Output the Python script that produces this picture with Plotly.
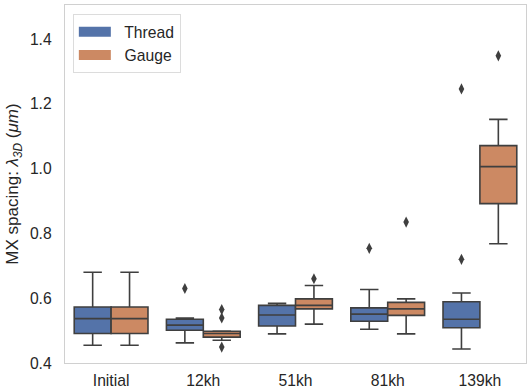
import plotly.graph_objects as go

categories = ["Initial", "12kh", "51kh", "81kh", "139kh"]

# Thread box statistics
thread_lower = [0.455, 0.462, 0.490, 0.504, 0.443]
thread_q1 = [0.491, 0.501, 0.514, 0.529, 0.509]
thread_median = [0.537, 0.517, 0.548, 0.551, 0.535]
thread_q3 = [0.573, 0.535, 0.578, 0.570, 0.589]
thread_upper = [0.680, 0.539, 0.584, 0.627, 0.616]

# Gauge box statistics
gauge_lower = [0.455, 0.470, 0.520, 0.490, 0.768]
gauge_q1 = [0.491, 0.480, 0.567, 0.547, 0.892]
gauge_median = [0.537, 0.491, 0.578, 0.567, 1.006]
gauge_q3 = [0.573, 0.498, 0.598, 0.587, 1.071]
gauge_upper = [0.680, 0.499, 0.639, 0.598, 1.152]

# Outliers
thread_out_cat = ["12kh", "81kh", "139kh", "139kh"]
thread_out_val = [0.630, 0.754, 1.246, 0.720]
gauge_out_cat = ["12kh", "12kh", "12kh", "51kh", "81kh", "139kh"]
gauge_out_val = [0.565, 0.539, 0.449, 0.660, 0.835, 1.348]

BLUE = "#5473a9"
ORANGE = "#cc8963"
EDGE = "#3f3f3f"
TEXT = "#262626"
SPINE = "#d0d0d0"
FONT = "Liberation Sans, Arial, sans-serif"

BOX_W = 0.4
idx = {c: i for i, c in enumerate(categories)}

fig = go.Figure()

groups = [
    ("Thread", BLUE, -BOX_W / 2, thread_lower, thread_q1, thread_median, thread_q3, thread_upper,
     thread_out_cat, thread_out_val),
    ("Gauge", ORANGE, BOX_W / 2, gauge_lower, gauge_q1, gauge_median, gauge_q3, gauge_upper,
     gauge_out_cat, gauge_out_val),
]

for name, color, off, lo, q1, med, q3, up, ocat, oval in groups:
    fig.add_trace(go.Box(
        x=[i + off for i in range(len(categories))],
        q1=q1, median=med, q3=q3, lowerfence=lo, upperfence=up,
        width=BOX_W, whiskerwidth=0.5,
        fillcolor=color, line=dict(color=EDGE, width=1.6),
        boxpoints=False, name=name, legendgroup=name, showlegend=False,
    ))
    fig.add_trace(go.Scatter(
        x=[idx[c] + off for c in ocat], y=oval, mode="markers",
        marker=dict(symbol="diamond-tall", size=8, color=EDGE,
                    line=dict(width=0)),
        legendgroup=name, showlegend=False, hoverinfo="y",
    ))
    # legend patch
    fig.add_trace(go.Scatter(
        x=[None], y=[None], mode="lines", name="  " + name, legendgroup=name,
        line=dict(color=color, width=11),
    ))

fig.update_layout(
    width=528, height=389,
    margin=dict(l=65, r=2, t=5, b=26),
    paper_bgcolor="white", plot_bgcolor="white",
    font=dict(family=FONT, size=15.7, color=TEXT),
    showlegend=True,
    legend=dict(
        x=0.017, y=0.975, xanchor="left", yanchor="top",
        bgcolor="rgba(255,255,255,0.8)", bordercolor="#dcdcdc", borderwidth=1,
        font=dict(size=15.7, color=TEXT), itemwidth=32, tracegroupgap=0,
    ),
)

fig.update_xaxes(
    range=[-0.5, len(categories) - 0.5],
    tickvals=list(range(len(categories))), ticktext=categories,
    showgrid=False, zeroline=False, automargin=False,
    showline=True, linecolor=SPINE, linewidth=1.3, mirror=True,
    ticks="", ticklabelstandoff=3,
)
fig.update_yaxes(
    range=[0.4, 1.505],
    tickvals=[0.4, 0.6, 0.8, 1.0, 1.2, 1.4],
    ticktext=["0.4", "0.6", "0.8", "1.0", "1.2", "1.4"],
    showgrid=False, zeroline=False, automargin=False,
    showline=True, linecolor=SPINE, linewidth=1.3, mirror=True,
    ticks="", ticklabelstandoff=9,
    title=dict(text="MX spacing: <i>λ</i><sub><i>3D</i></sub> (<i>μm</i>)",
               font=dict(size=17, color=TEXT), standoff=6),
)

fig.write_html("out.html", post_script="document.body.style.margin='0';",
               config={"displayModeBar": False})
